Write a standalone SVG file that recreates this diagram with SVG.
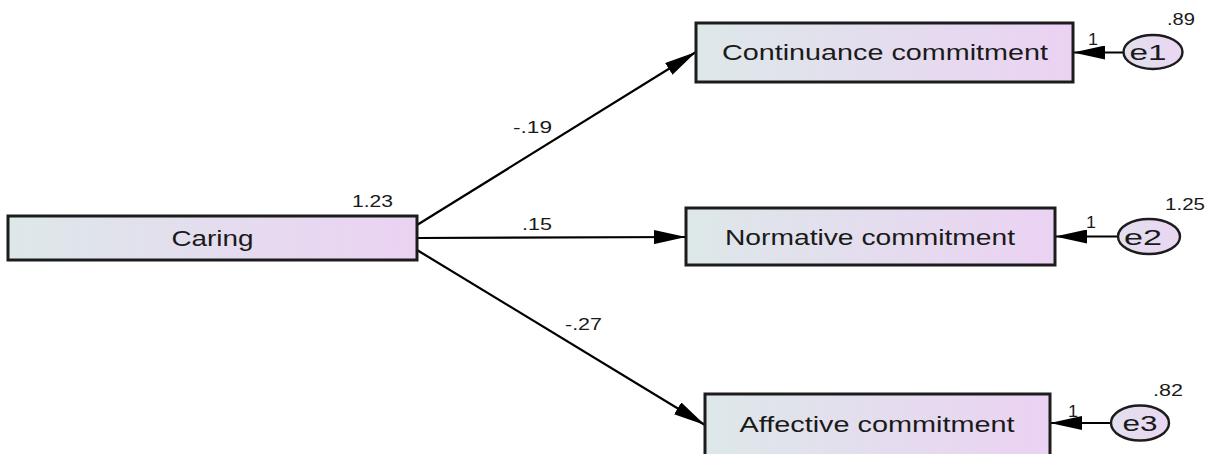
<svg xmlns="http://www.w3.org/2000/svg" width="1209" height="454" viewBox="0 0 1209 454">
<defs>
<linearGradient id="boxfill" x1="0" y1="0" x2="1" y2="0">
<stop offset="0" stop-color="#dde8e9"/>
<stop offset="1" stop-color="#ebd2f3"/>
</linearGradient>
<linearGradient id="elfill" x1="0" y1="0" x2="1" y2="0">
<stop offset="0" stop-color="#e2e0ee"/>
<stop offset="1" stop-color="#ead6f2"/>
</linearGradient>
<marker id="arr" viewBox="0 0 32 14" refX="32" refY="7" markerWidth="32" markerHeight="14" orient="auto" markerUnits="userSpaceOnUse">
<path d="M0,0 L32,7 L0,14 Z" fill="#000"/>
</marker>
<style>
.box{fill:url(#boxfill);stroke:#1c1c1c;stroke-width:3}
.el{fill:url(#elfill);stroke:#1c1c1c;stroke-width:2.4}
.lbl{font-family:"Liberation Sans",Arial,sans-serif;font-size:22px;fill:#1a1a1a;text-anchor:middle}
.num{font-family:"Liberation Sans",Arial,sans-serif;font-size:17px;fill:#1a1a1a}
.con{stroke:#000;stroke-width:2.2;fill:none;marker-end:url(#arr)}
</style>
</defs>
<rect width="1209" height="454" fill="#fff"/>
<g id="connectors">
<line class="con" x1="417" y1="225" x2="696" y2="52"/>
<line class="con" x1="417" y1="238" x2="686" y2="237"/>
<line class="con" x1="417" y1="250" x2="705" y2="425"/>
<line class="con" x1="1123" y1="52.5" x2="1073" y2="52.5"/>
<line class="con" x1="1118" y1="236.5" x2="1055" y2="236.5"/>
<line class="con" x1="1111" y1="423" x2="1050" y2="423"/>
<text class="num" x="513" y="133" textLength="39" lengthAdjust="spacingAndGlyphs">-.19</text>
<text class="num" x="522" y="230" textLength="30" lengthAdjust="spacingAndGlyphs">.15</text>
<text class="num" x="565" y="330" textLength="37" lengthAdjust="spacingAndGlyphs">-.27</text>
<text class="num" x="1088" y="45" textLength="10" lengthAdjust="spacingAndGlyphs">1</text>
<text class="num" x="1086" y="228" textLength="10" lengthAdjust="spacingAndGlyphs">1</text>
<text class="num" x="1068" y="417" textLength="10" lengthAdjust="spacingAndGlyphs">1</text>
</g>
<g id="caring">
<rect class="box" x="8" y="216" width="409" height="44"/>
<text class="lbl" x="212.5" y="246" textLength="82" lengthAdjust="spacingAndGlyphs">Caring</text>
<text class="num" x="352" y="207" textLength="41" lengthAdjust="spacingAndGlyphs">1.23</text>
</g>
<g id="continuance">
<rect class="box" x="696" y="23" width="377" height="59"/>
<text class="lbl" x="885" y="60" textLength="326" lengthAdjust="spacingAndGlyphs">Continuance commitment</text>
</g>
<g id="normative">
<rect class="box" x="686" y="208" width="369" height="57"/>
<text class="lbl" x="870" y="245" textLength="290" lengthAdjust="spacingAndGlyphs">Normative commitment</text>
</g>
<g id="affective">
<rect class="box" x="705" y="394" width="345" height="80"/>
<text class="lbl" x="877" y="432" textLength="275" lengthAdjust="spacingAndGlyphs">Affective commitment</text>
</g>
<g id="e1">
<ellipse class="el" cx="1153" cy="52" rx="29.5" ry="17"/>
<text class="lbl" x="1148" y="60" textLength="37" lengthAdjust="spacingAndGlyphs">e1</text>
<text class="num" x="1167" y="25" textLength="28" lengthAdjust="spacingAndGlyphs">.89</text>
</g>
<g id="e2">
<ellipse class="el" cx="1149" cy="236.5" rx="31" ry="17.5"/>
<text class="lbl" x="1143" y="244.5" textLength="38" lengthAdjust="spacingAndGlyphs">e2</text>
<text class="num" x="1165" y="210" textLength="40" lengthAdjust="spacingAndGlyphs">1.25</text>
</g>
<g id="e3">
<ellipse class="el" cx="1140" cy="423" rx="29" ry="17.5"/>
<text class="lbl" x="1140" y="431" textLength="35" lengthAdjust="spacingAndGlyphs">e3</text>
<text class="num" x="1153" y="396" textLength="30" lengthAdjust="spacingAndGlyphs">.82</text>
</g>
</svg>
